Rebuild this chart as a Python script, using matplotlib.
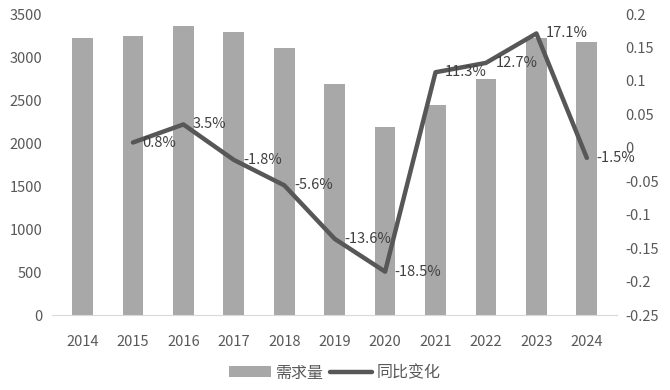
import matplotlib.pyplot as plt
import numpy as np

plt.rcParams['font.family'] = ['Noto Sans CJK SC', 'DejaVu Sans']

years = ['2014', '2015', '2016', '2017', '2018', '2019', '2020', '2021', '2022', '2023', '2024']
demand = [3217, 3243, 3356, 3296, 3111, 2688, 2191, 2438, 2748, 3218, 3170]
yoy = [None, 0.008, 0.035, -0.018, -0.056, -0.136, -0.185, 0.113, 0.127, 0.171, -0.015]
yoy_labels = ['', '0.8%', '3.5%', '-1.8%', '-5.6%', '-13.6%', '-18.5%', '11.3%', '12.7%', '17.1%', '-1.5%']
left_ticks = [0, 500, 1000, 1500, 2000, 2500, 3000, 3500]
right_ticks = [-0.25, -0.2, -0.15, -0.1, -0.05, 0, 0.05, 0.1, 0.15, 0.2]
right_tick_labels = ['-0.25', '-0.2', '-0.15', '-0.1', '-0.05', '0', '0.05', '0.1', '0.15', '0.2']

bar_color = '#a8a8a8'
line_color = '#575757'
text_color = '#595959'

fig = plt.figure(figsize=(6.7, 3.9), dpi=100)
ax = fig.add_axes([0.078, 0.192, 0.843, 0.772])
x = np.arange(len(years))

bars = ax.bar(x, demand, width=0.41, color=bar_color, label='需求量', zorder=2)
ax.set_ylim(0, 3500)
ax.set_xlim(-0.6, len(years) - 0.4)
ax.set_yticks(left_ticks)
ax.set_xticks(x)
ax.set_xticklabels(years)

ax2 = ax.twinx()
lx = [i for i, v in enumerate(yoy) if v is not None]
ly = [v for v in yoy if v is not None]
line, = ax2.plot(lx, ly, color=line_color, linewidth=3.2, label='同比变化',
                 solid_joinstyle='round', solid_capstyle='round', zorder=3)
ax2.set_ylim(-0.25, 0.2)
ax2.set_yticks(right_ticks)
ax2.set_yticklabels(right_tick_labels)

for i, v in enumerate(yoy):
    if v is None:
        continue
    ax2.annotate(yoy_labels[i], (i, v), xytext=(7, 0), textcoords='offset points',
                 ha='left', va='center', fontsize=10.5, color='#404040')

for a in (ax, ax2):
    for s in ('top', 'left', 'right', 'bottom'):
        a.spines[s].set_visible(False)
    a.tick_params(length=0, labelsize=10.5, colors=text_color)
ax.spines['bottom'].set_visible(True)
ax.spines['bottom'].set_color('#d9d9d9')
ax.tick_params(axis='x', pad=14)
ax.tick_params(axis='y', pad=7)
ax2.tick_params(axis='y', pad=6)

fig.legend(handles=[bars, line], labels=['需求量', '同比变化'], loc='lower center',
           bbox_to_anchor=(0.5, -0.015), ncol=2, frameon=False, fontsize=11.5,
           handlelength=2.6, handleheight=0.7, columnspacing=0.4, handletextpad=0.3,
           labelcolor=text_color)

fig.savefig('out.png', dpi=100)
